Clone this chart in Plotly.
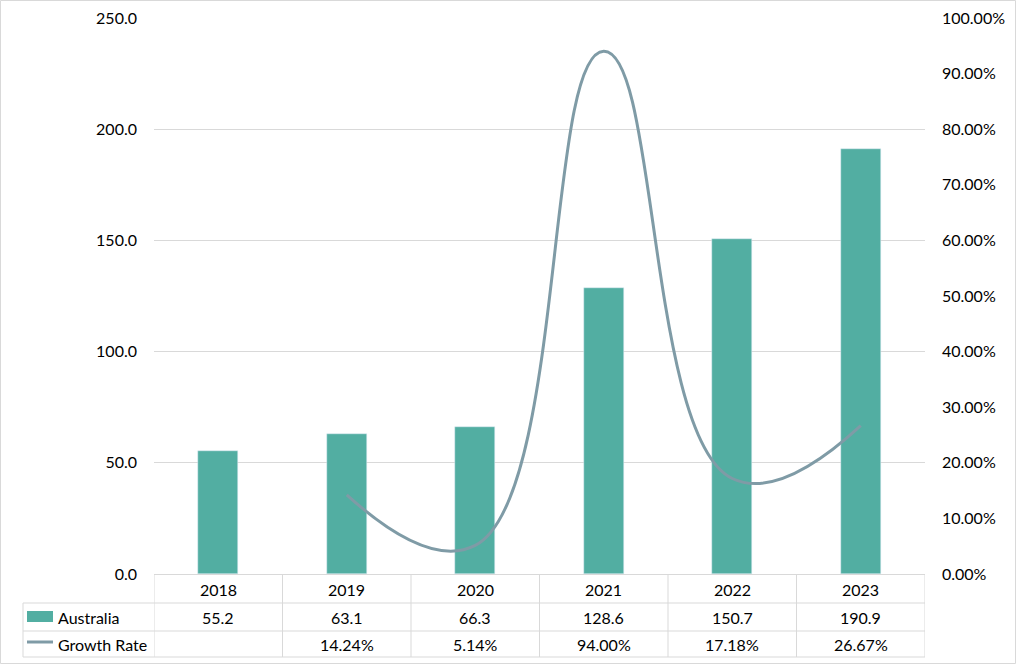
import plotly.graph_objects as go

years = ["2018", "2019", "2020", "2021", "2022", "2023"]
australia = [55.2, 63.1, 66.3, 128.6, 150.7, 190.9]
growth = [None, 14.24, 5.14, 94.00, 17.18, 26.67]
australia_labels = ["55.2", "63.1", "66.3", "128.6", "150.7", "190.9"]
growth_labels = ["", "14.24%", "5.14%", "94.00%", "17.18%", "26.67%"]
left_ticks = [0, 50, 100, 150, 200, 250]
right_ticks = [0, 10, 20, 30, 40, 50, 60, 70, 80, 90, 100]

W, H = 1017, 665
L, R, T, B = 154, 925, 18, 574
BAR = "#52AEA2"
LINE = "#7F9BA6"
GRID = "#D9D9D9"
FONT = "Lato"
FS = 16

xi = list(range(len(years)))

def py(p):
    return (B - p) / (B - T)

def px(p):
    return (p - L) / (R - L)

fig = go.Figure()
fig.add_trace(go.Bar(x=xi, y=australia, marker_color=BAR, width=0.31,
                     name="Australia", showlegend=False))
gx = [x for x, g in zip(xi, growth) if g is not None]
gy = [g / 100 for g in growth if g is not None]
fig.add_trace(go.Scatter(x=gx, y=gy, yaxis="y2", mode="lines",
                         line=dict(color=LINE, width=3, shape="spline", smoothing=1.3),
                         name="Growth Rate", showlegend=False))

shapes = []
# outer border
shapes.append(dict(type="rect", xref="paper", yref="paper",
                   x0=px(0.5), x1=px(W - 1.5), y0=py(H - 1.5), y1=py(0.5),
                   line=dict(color="#D9D9D9", width=1), layer="below"))
rows = [574, 603, 631, 657]
for yy in rows[1:]:
    shapes.append(dict(type="line", xref="paper", yref="paper",
                       x0=px(23), x1=1, y0=py(yy), y1=py(yy),
                       line=dict(color=GRID, width=1)))
shapes.append(dict(type="line", xref="paper", yref="paper", x0=px(23), x1=px(23),
                   y0=py(603), y1=py(657), line=dict(color=GRID, width=1)))
for k in range(len(years) + 1):
    xx = k - 0.5
    shapes.append(dict(type="line", xref="x", yref="paper", x0=xx, x1=xx,
                       y0=0, y1=py(657), line=dict(color=GRID, width=1)))
# legend keys
shapes.append(dict(type="rect", xref="paper", yref="paper", x0=px(27), x1=px(53),
                   y0=py(622), y1=py(611), fillcolor=BAR, line=dict(width=0)))
shapes.append(dict(type="line", xref="paper", yref="paper", x0=px(27), x1=px(53),
                   y0=py(642), y1=py(642), line=dict(color=LINE, width=3)))

ann = []
fnt = dict(family=FONT, size=FS, color="#000000")
for i, yr in enumerate(years):
    ann.append(dict(x=i, y=py(589), xref="x", yref="paper", text=yr, showarrow=False,
                    font=fnt, xanchor="center", yanchor="middle"))
    ann.append(dict(x=i, y=py(617), xref="x", yref="paper", text=australia_labels[i],
                    showarrow=False, font=fnt, xanchor="center", yanchor="middle"))
    if growth_labels[i]:
        ann.append(dict(x=i, y=py(644), xref="x", yref="paper", text=growth_labels[i],
                        showarrow=False, font=fnt, xanchor="center", yanchor="middle"))
ann.append(dict(x=px(56), y=py(617), xref="paper", yref="paper", text="Australia",
                showarrow=False, font=fnt, xanchor="left", yanchor="middle"))
ann.append(dict(x=px(56), y=py(644), xref="paper", yref="paper", text="Growth Rate",
                showarrow=False, font=fnt, xanchor="left", yanchor="middle"))

fig.update_layout(
    width=W, height=H,
    margin=dict(l=L, r=W - R, t=T, b=H - B, autoexpand=False),
    paper_bgcolor="white", plot_bgcolor="white",
    font=dict(family=FONT, size=FS, color="#000000"),
    xaxis=dict(range=[-0.5, len(years) - 0.5], showticklabels=False, showgrid=False,
               zeroline=False, showline=True, linecolor=GRID, linewidth=1, ticks="",
               automargin=False),
    yaxis=dict(range=[0, 250], tickvals=left_ticks, tickformat=".1f",
               showgrid=True, gridcolor=GRID, gridwidth=1, zeroline=False,
               showline=False, ticks="", ticklabelstandoff=16, automargin=False),
    yaxis2=dict(range=[0, 1], overlaying="y", side="right",
                tickvals=[v / 100 for v in right_ticks], tickformat=".2%",
                showgrid=False, zeroline=False, showline=False, ticks="",
                ticklabelstandoff=16, automargin=False),
    shapes=shapes, annotations=ann, bargap=0,
)

fig.write_html("out.html")
